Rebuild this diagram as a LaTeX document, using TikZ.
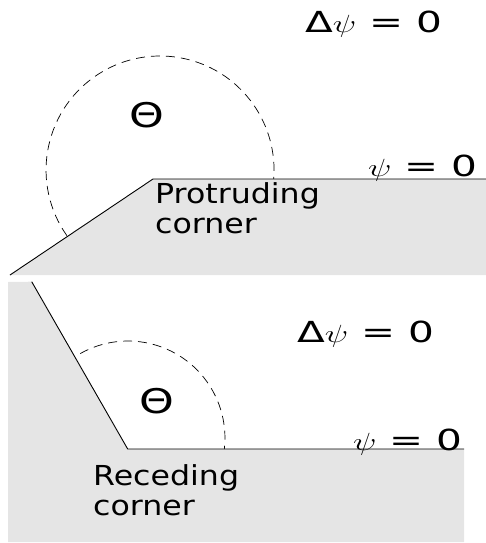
\documentclass[tikz,border=0pt]{standalone}
\usepackage{fontspec}
\usepackage{graphicx}
\newfontfamily\lblfont[FakeStretch=1.15]{DejaVu Sans}
\newfontfamily\eqfont[FakeStretch=1.4]{DejaVu Sans}
\newfontfamily\sgnfont[FakeStretch=1.3]{DejaVu Sans}
\newcommand{\wpsi}{\scalebox{1.4}[1]{$\psi$}}

\begin{document}
\begin{tikzpicture}[x=1pt, y=-1pt,
  wall/.style={fill=gray!20, draw=none},
  edge/.style={line width=0.9pt},
  field/.style={line width=0.7pt, dash pattern=on 9pt off 6pt},
  lbl/.style={inner sep=0pt, anchor=base west, align=left,
    font=\lblfont\fontsize{27.5}{30}\selectfont},
  eq/.style={inner sep=0pt, anchor=base west,
    font=\eqfont\fontsize{29}{31}\selectfont},
  sgn/.style={inner sep=0pt, font=\sgnfont\fontsize{34}{36}\selectfont}]
  \useasboundingbox (0,0) rectangle (486,543);
  % ── Upper panel: protruding corner ───────────────────────────
  \coordinate (pl) at (10,275);
  \coordinate (pc) at (153,179);
  \coordinate (pr) at (486,179);
  \fill[wall] (pl) -- (pc) -- (pr) -- (486,275) -- cycle;
  \draw[edge] (pl) -- (pc) -- (pr);
  \draw[field] (66.9,235.7) arc[start angle=144.8, end angle=364.5, radius=114];
  \node[eq]  (dtop) at (305,33)  {Δ\wpsi{} = 0};
  \node[eq]  (btop) at (368,176) {\wpsi{} = 0};
  \node[sgn] (stop) at (147,115) {Θ};
  % base anchor sits on the last line
  \node[lbl] (ptxt) at (155,233) {Protruding\\corner};
  % ── Lower panel: receding corner ─────────────────────────────
  \coordinate (rl) at (31.7,281.7);
  \coordinate (rc) at (127.7,449);
  \coordinate (rr) at (464,449);
  \fill[wall] (8,282) -- (rl) -- (rc) -- (rr) -- (464,542) -- (8,542) -- cycle;
  \draw[edge] (rl) -- (rc) -- (rr);
  \draw[field] (80.2,353.6) arc[start angle=240.5, end angle=366.5, radius=97];
  \node[eq]  (dbot) at (297,342) {Δ\wpsi{} = 0};
  \node[sgn] (sbot) at (157,401) {Θ};
  \node[eq]  (bbot) at (353,450) {\wpsi{} = 0};
  \node[lbl] (rtxt) at (93,515)  {Receding\\corner};
\end{tikzpicture}
\end{document}
